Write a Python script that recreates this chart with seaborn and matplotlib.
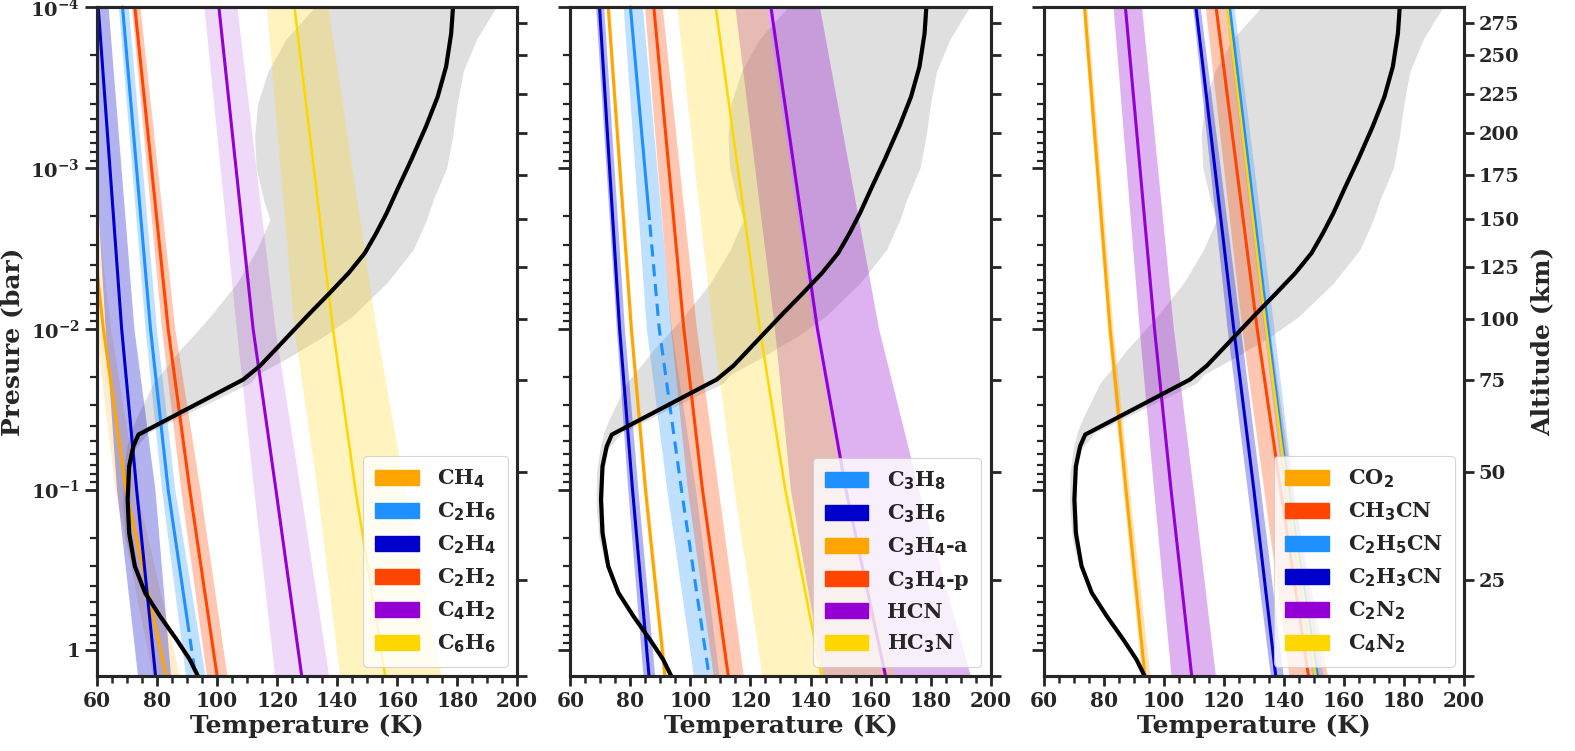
import seaborn as sns
import matplotlib.pyplot as plt
from matplotlib.patches import Patch, Rectangle
from matplotlib.ticker import FixedLocator, MultipleLocator, NullLocator

sns.set_theme(style='ticks')
plt.rcParams['font.family'] = ['DejaVu Serif']
plt.rcParams['font.weight'] = 'bold'
plt.rcParams['axes.labelweight'] = 'bold'
plt.rcParams['mathtext.fontset'] = 'custom'
plt.rcParams['mathtext.rm'] = 'DejaVu Sans'
plt.rcParams['mathtext.it'] = 'DejaVu Sans:italic'
plt.rcParams['mathtext.bf'] = 'DejaVu Serif:bold'
plt.rcParams['axes.linewidth'] = 2.2

# pressure levels (bar) at which the condensation curves were read
levels = [1e-4, 1e-2, 1e-1, 1.44]

# panel 1 : hydrocarbons
names1 = ['CH$_4$', 'C$_2$H$_6$', 'C$_2$H$_4$', 'C$_2$H$_2$', 'C$_4$H$_2$', 'C$_6$H$_6$']
mid1 = [[50.5, 62.1, 69.6, 83.0], [68.5, 77.8, 83.7, 92.8], [60.4, 68.2, 73.2, 79.5],
        [72.6, 83.7, 90.9, 100.0], [100.6, 112.0, 119.6, 128.2], [125.8, 138.6, 146.1, 156.0]]
lo1 = [[48.8, 59.5, 66.0, 78.5], [67.1, 76.0, 81.5, 89.5], [56.3, 62.7, 66.5, 73.5],
       [71.5, 81.5, 87.9, 96.5], [95.6, 106.4, 112.2, 119.2], [116.4, 125.6, 133.3, 140.8]]
hi1 = [[52.0, 64.5, 73.2, 87.5], [70.4, 79.8, 85.9, 96.0], [63.7, 72.3, 79.3, 84.5],
       [74.3, 85.9, 94.3, 103.3], [106.6, 119.3, 127.7, 137.2], [136.9, 153.0, 162.5, 174.6]]
dash1 = [None, 0.77, None, None, None, None]

# panel 2
names2 = ['C$_3$H$_8$', 'C$_3$H$_6$', 'C$_3$H$_4$-a', 'C$_3$H$_4$-p', 'HCN', 'HC$_3$N']
mid2 = [[80.0, 89.6, 97.0, 106.2], [69.7, 76.4, 80.7, 86.2], [72.6, 80.3, 85.0, 91.5],
        [87.8, 97.8, 104.0, 112.6], [126.8, 142.3, 151.8, 165.0], [108.4, 123.1, 131.6, 143.7]]
lo2 = [[77.6, 85.3, 92.1, 101.0], [68.4, 75.3, 79.1, 84.2], [72.1, 79.8, 84.4, 90.8],
       [84.7, 93.4, 99.0, 107.6], [114.8, 128.0, 133.3, 144.0], [95.4, 107.3, 114.5, 123.8]]
hi2 = [[84.0, 93.6, 101.7, 109.5], [71.1, 78.0, 82.5, 88.1], [73.1, 80.8, 85.6, 92.2],
       [90.6, 102.0, 109.3, 117.6], [143.0, 162.7, 176.0, 193.3], [125.2, 141.0, 151.0, 168.0]]
dash2 = [2.1e-3, None, None, None, None, None]

# panel 3 : nitriles and co
names3 = ['CO$_2$', 'CH$_3$CN', 'C$_2$H$_5$CN', 'C$_2$H$_3$CN', 'C$_2$N$_2$', 'C$_4$N$_2$']
mid3 = [[73.6, 82.1, 87.4, 93.7], [117.4, 131.1, 138.9, 148.2], [121.9, 134.7, 141.4, 151.2],
        [110.7, 123.3, 130.0, 137.3], [87.2, 96.9, 102.4, 109.3], [121.1, 134.1, 141.1, 150.6]]
lo3 = [[72.8, 81.2, 86.4, 92.6], [113.8, 126.0, 133.3, 141.7], [120.4, 133.3, 139.8, 149.4],
       [109.6, 121.1, 127.8, 135.5], [83.1, 91.8, 96.6, 102.4], [120.6, 133.5, 140.4, 149.9]]
hi3 = [[74.4, 83.1, 88.5, 95.4], [120.5, 135.3, 142.8, 154.5], [123.4, 136.7, 143.1, 153.0],
       [112.1, 125.5, 132.2, 139.8], [92.6, 103.2, 109.8, 117.2], [121.7, 134.8, 141.8, 151.4]]
dash3 = [None] * 6

# temperature profile
prof_p = [1.0e-4, 1.46e-4, 2.35e-4, 3.61e-4, 5.53e-4, 8.91e-4, 1.31e-3, 1.91e-3, 2.55e-3,
          3.39e-3, 4.51e-3, 6.0e-3, 7.98e-3, 1.12e-2, 1.35e-2, 1.70e-2, 2.07e-2, 4.55e-2,
          5.38e-2, 7.16e-2, 0.115, 0.186, 0.299, 0.438, 0.612, 0.855, 1.138, 1.44]
prof_T = [178.6, 178.0, 176.3, 173.5, 169.6, 164.7, 160.5, 156.5, 153.0,
          149.2, 143.8, 137.5, 131.0, 123.5, 119.4, 114.3, 108.7, 73.8,
          72.1, 70.7, 70.2, 70.7, 72.6, 76.0, 81.0, 86.5, 90.9, 93.6]

# uncertainty envelope of the profile
env_p = [1.0e-4, 1.58e-4, 2.51e-4, 3.98e-4, 6.31e-4, 1.0e-3, 1.58e-3, 2.10e-3, 3.23e-3, 5.20e-3,
         8.38e-3, 1.12e-2, 1.35e-2, 1.49e-2, 1.93e-2, 2.17e-2, 3.16e-2, 3.51e-2, 4.43e-2,
         5.62e-2, 7.94e-2, 0.126, 0.2, 0.282]
env_lo = [132.5, 123.0, 117.0, 113.5, 112.5, 113.0, 115.5, 117.6, 113.2, 106.6,
          97.7, 91.7, 87.7, 85.9, 81.0, 78.8, 74.5, 73.3, 71.1, 69.8, 68.7, 68.6, 69.5, 71.3]
env_hi = [193.0, 186.5, 182.0, 180.0, 178.5, 176.5, 172.0, 169.8, 165.3, 156.5,
          145.0, 135.4, 128.0, 124.3, 113.2, 111.0, 93.0, 88.0, 77.0, 72.5, 71.0, 71.0, 71.5, 72.3]

# altitude axis
alt_km = [0, 25, 50, 75, 100, 125, 150, 175, 200, 225, 250, 275]
alt_p = [1.44, 0.367, 0.0773, 0.0207, 8.67e-3, 4.12e-3, 2.07e-3, 1.10e-3, 6.07e-4, 3.46e-4,
         1.99e-4, 1.26e-4]

colors1 = ['#FFA500', '#1E90FF', '#0000CD', '#FF4500', '#9400D3', '#FFD700']
colors2 = ['#1E90FF', '#0000CD', '#FFA500', '#FF4500', '#9400D3', '#FFD700']
colors3 = ['#FFA500', '#FF4500', '#1E90FF', '#0000CD', '#9400D3', '#FFD700']
alphas1 = [0.2, 0.28, 0.3, 0.3, 0.15, 0.25]
alphas2 = [0.28, 0.3, 0.3, 0.3, 0.3, 0.25]
alphas3 = [0.3, 0.3, 0.28, 0.3, 0.3, 0.25]

panels = [(names1, mid1, lo1, hi1, dash1, colors1, alphas1),
          (names2, mid2, lo2, hi2, dash2, colors2, alphas2),
          (names3, mid3, lo3, hi3, dash3, colors3, alphas3)]

fig, axes = plt.subplots(1, 3, figsize=(15.75, 7.51), dpi=100, sharey=True)
plt.subplots_adjust(left=0.0616, right=0.9295, bottom=0.0999, top=0.9907, wspace=0.1265)

for k, (ax, (names, mid, lo, hi, dash, cols, alphas)) in enumerate(zip(axes, panels)):
    ax.set_yscale('log')
    ax.fill_betweenx(env_p, env_lo, env_hi, color='grey', alpha=0.25, lw=0, zorder=1)
    handles = []
    for i in range(len(names)):
        ax.fill_betweenx(levels, lo[i], hi[i], color=cols[i], alpha=alphas[i], lw=0, zorder=2)
        lw = 1.8 if cols[i] == '#FFD700' else 2.2
        sns.lineplot(x=mid[i], y=levels, sort=False, estimator=None, color=cols[i], lw=lw, ax=ax, zorder=3)
        if dash[i] is not None:
            # solid above the cut, dashed below it
            solid = ax.lines[-1]
            solid.set_clip_path(Rectangle((0, 1e-6), 500, dash[i] - 1e-6, transform=ax.transData))
            sns.lineplot(x=mid[i], y=levels, sort=False, estimator=None, color=cols[i], lw=lw,
                         ax=ax, zorder=3, linestyle='--')
            ax.lines[-1].set_dashes([4, 2.5])
            ax.lines[-1].set_clip_path(Rectangle((0, dash[i]), 500, 10, transform=ax.transData))
        handles.append(Patch(facecolor=cols[i], edgecolor=cols[i], label=names[i]))
    sns.lineplot(x=prof_T, y=prof_p, sort=False, estimator=None, color='black', lw=3, ax=ax, zorder=4)

    ax.set_xlim(60, 200)
    ax.set_ylim(1.44, 1e-4)
    ax.xaxis.set_major_locator(MultipleLocator(20))
    ax.xaxis.set_minor_locator(MultipleLocator(5))
    ax.set_yticks([1e-4, 1e-3, 1e-2, 1e-1, 1],
                  [r'$\mathbf{10^{-4}}$', r'$\mathbf{10^{-3}}$', r'$\mathbf{10^{-2}}$',
                   r'$\mathbf{10^{-1}}$', r'$\mathbf{1}$'])
    ax.tick_params(axis='x', which='major', direction='out', length=7, width=2, labelsize=14.5, pad=4)
    ax.tick_params(axis='x', which='minor', direction='out', length=5, width=1.8)
    ax.tick_params(axis='y', which='major', direction='out', length=9, width=2, labelsize=14)
    ax.tick_params(axis='y', which='minor', direction='out', length=5, width=1.6)
    ax.set_xlabel('Temperature (K)', fontsize=18, fontweight='bold', labelpad=2)
    for s in ax.spines.values():
        s.set_visible(True)
        s.set_color('black')

    leg = ax.legend(handles=handles, loc='lower right', fontsize=15, frameon=True, framealpha=0.8,
                    fancybox=True, handlelength=2.1, handleheight=0.75, labelspacing=0.5,
                    borderpad=0.55, handletextpad=0.9, borderaxespad=0.45)
    leg.get_frame().set_linewidth(0.8)

    # altitude ticks on the right side of every panel
    ax2 = ax.twinx()
    ax2.set_yscale('log')
    ax2.set_ylim(1.44, 1e-4)
    ax2.yaxis.set_major_locator(FixedLocator(alt_p))
    ax2.yaxis.set_minor_locator(NullLocator())
    if k == 2:
        ax2.set_yticklabels([''] + [str(a) for a in alt_km[1:]])
        ax2.set_ylabel('Altitude (km)', fontsize=18, fontweight='bold', labelpad=8)
    else:
        ax2.set_yticklabels([''] * len(alt_km))
    ax2.tick_params(axis='y', which='major', direction='out', length=7, width=2, labelsize=14)
    ax2.grid(False)

axes[0].set_ylabel('Presure (bar)', fontsize=18, fontweight='bold', labelpad=4)

plt.savefig('out.png', dpi=100)
